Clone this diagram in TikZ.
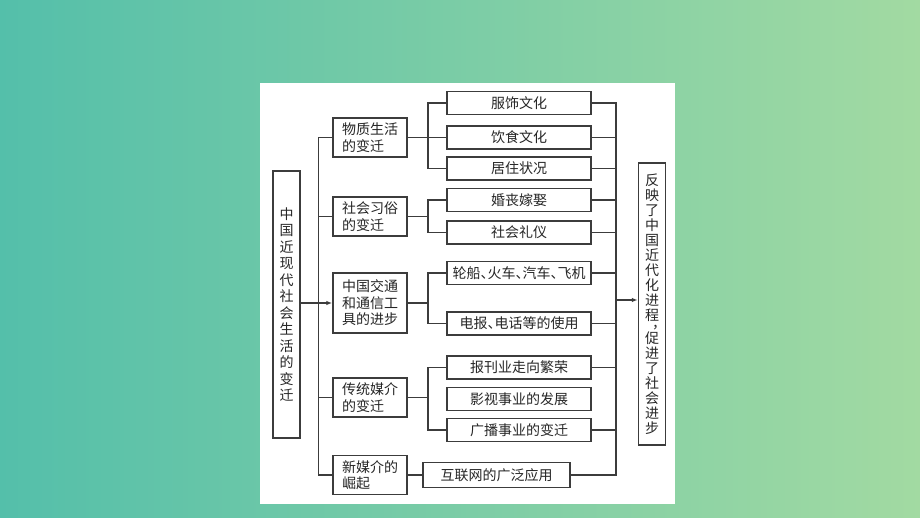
\documentclass[tikz,border=0pt]{standalone}
\usepackage{fontspec}
\usepackage{xcolor}
\usepackage{tikz}
\usetikzlibrary{arrows.meta}
\newfontfamily\cjk{Noto Sans CJK SC}
\definecolor{bgLeft}{HTML}{54BFAA}
\definecolor{bgRight}{HTML}{A2DAA2}
\definecolor{ink}{HTML}{262626}
\definecolor{wire}{HTML}{3C3C3C}
\newcommand\halfcomma{\makebox[0.5em][l]{、}}
\newcommand\sidecomma{\makebox[1em][l]{\hspace{0.5em}，}}
\tikzset{
  boxBase/.style={draw=wire, line width=1.4pt, text=ink, inner sep=0pt,
    font=\cjk\fontsize{14}{16.5}\selectfont},
  leafBox/.style={boxBase, minimum width=144pt, minimum height=23pt},
  midBox/.style={boxBase, align=left, minimum width=74pt, minimum height=39pt},
  sideBox/.style={boxBase, align=center, minimum width=27pt},
  linkLine/.style={draw=wire, line width=1.2pt},
  linkArrow/.style={linkLine, -{Latex[length=6pt,width=4.5pt]}}
}

\begin{document}
\begin{tikzpicture}[x=1pt, y=-1pt]
  \useasboundingbox (0,0) rectangle (920,518);
  \shade[left color=bgLeft, right color=bgRight] (0,0) rectangle (920,518);
  \fill[white] (260,83) rectangle (675,504);

  \coordinate (trunk) at (318.5,0);
  \coordinate (leafL) at (428,0);
  \coordinate (leafR) at (616,0);

  \node[sideBox, minimum height=267pt] (mainBox) at (286.5,304.5)
    {中\\国\\近\\现\\代\\社\\会\\生\\活\\的\\变\\迁};
  \node[sideBox, minimum height=282pt, font=\cjk\fontsize{14}{15}\selectfont] (resultBox) at (652,304)
    {反\\映\\了\\中\\国\\近\\代\\化\\进\\程\\[-7pt]\sidecomma\\[0pt]促\\进\\了\\社\\会\\进\\步};

  \node[midBox] (material) at (370,137.5) {物质生活\\的变迁};
  \node[midBox] (custom) at (370,216.5) {社会习俗\\的变迁};
  \node[midBox, minimum height=60pt] (traffic) at (370,303) {中国交通\\和通信工\\具的进步};
  \node[midBox] (media) at (370,397.5) {传统媒介\\的变迁};
  \node[midBox] (newMedia) at (370,475) {新媒介的\\崛起\phantom{介的}};

  \node[leafBox] (clothing) at (519,103) {服饰文化};
  \node[leafBox] (food) at (519,137.5) {饮食文化};
  \node[leafBox] (housing) at (519,168.5) {居住状况};
  \node[leafBox] (marriage) at (519,200) {婚丧嫁娶};
  \node[leafBox] (etiquette) at (519,232.5) {社会礼仪};
  \node[leafBox] (ships) at (519,273) {轮船\halfcomma 火车\halfcomma 汽车\halfcomma 飞机};
  \node[leafBox] (telegraph) at (519,323.5) {电报\halfcomma 电话等的使用};
  \node[leafBox] (press) at (519,367.5) {报刊业走向繁荣};
  \node[leafBox] (film) at (519,399) {影视事业的发展};
  \node[leafBox] (radio) at (519,430) {广播事业的变迁};
  \node[leafBox, minimum width=147pt, minimum height=25pt] (internet) at (496.5,475) {互联网的广泛应用};

  \draw[linkArrow] (mainBox.east |- traffic.west) -- (traffic.west);
  \draw[linkLine] (material.west) -- (material.west -| trunk) -- (newMedia.west -| trunk) -- (newMedia.west);
  \foreach \n in {custom,media}
    \draw[linkLine] (\n.west) -- (\n.west -| trunk);

  \draw[linkLine] (material.east) -- (food.west);
  \draw[linkLine] (clothing.west) -- (clothing.west -| leafL) -- (housing.west -| leafL) -- (housing.west);
  \draw[linkLine] (custom.east) -- (custom.east -| leafL);
  \draw[linkLine] (marriage.west) -- (marriage.west -| leafL) -- (etiquette.west -| leafL) -- (etiquette.west);
  \draw[linkLine] (traffic.east) -- (traffic.east -| leafL);
  \draw[linkLine] (ships.west) -- (ships.west -| leafL) -- (telegraph.west -| leafL) -- (telegraph.west);
  \draw[linkLine] (media.east) -- (media.east -| leafL);
  \draw[linkLine] (press.west) -- (press.west -| leafL) -- (radio.west -| leafL) -- (radio.west);
  \draw[linkLine] (newMedia.east) -- (internet.west);

  \draw[linkLine] (clothing.east) -- (clothing.east -| leafR) -- (internet.east -| leafR) -- (internet.east);
  \foreach \n in {food,housing,marriage,etiquette,ships,telegraph,press,radio}
    \draw[linkLine] (\n.east) -- (\n.east -| leafR);
  \coordinate (toResult) at (616,300);
  \draw[linkArrow] (toResult) -- (toResult -| resultBox.west);
\end{tikzpicture}
\end{document}
